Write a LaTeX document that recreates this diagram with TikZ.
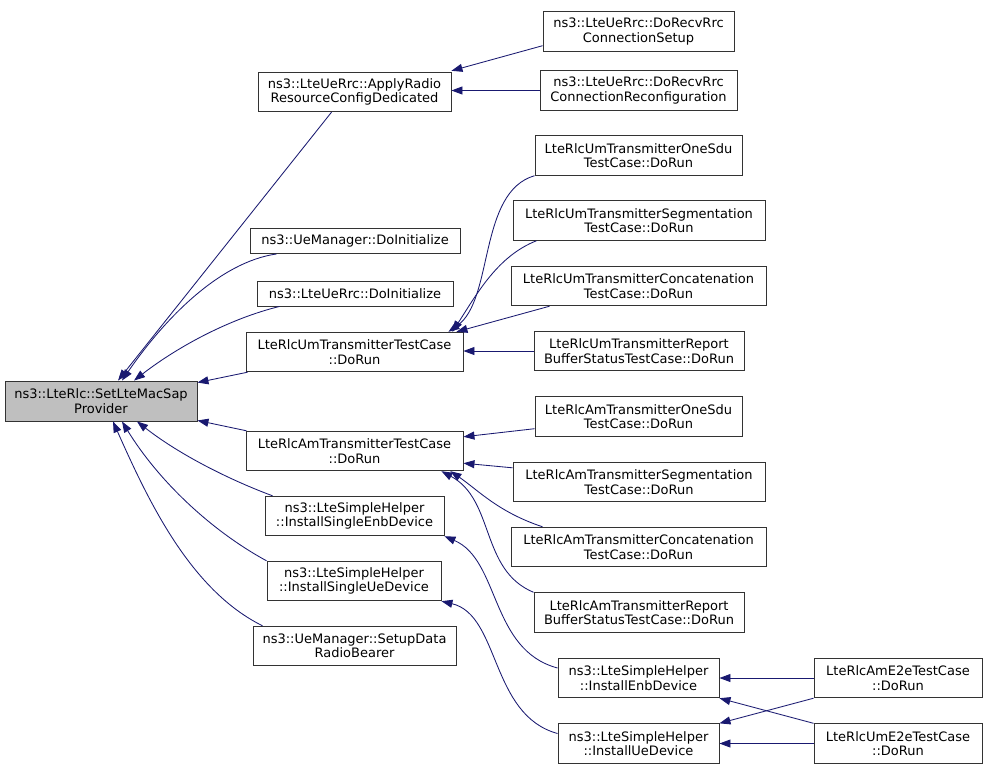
\documentclass[tikz,border=0pt]{standalone}
\usepackage{fontspec}
\setmainfont{DejaVu Sans}
\usetikzlibrary{arrows.meta,calc}
\definecolor{edgecol}{HTML}{191970}
\definecolor{rootfill}{HTML}{BFBFBF}
\begin{document}
\begin{tikzpicture}[x=1pt,y=-1pt,
  box/.style={draw=black!80, line width=0.9pt, fill=white, align=center, inner sep=0pt,
    font=\fontsize{13}{14.3}\selectfont, minimum height=39.5pt},
  onebox/.style={box, minimum height=25pt},
  edge/.style={draw=edgecol, line width=0.85pt, -{Triangle[length=11pt,width=8pt]}, edgecol}]
\useasboundingbox (0,0) rectangle (987,769);
% nodes
\node[box, fill=rootfill, minimum width=192pt, minimum height=40pt] (A) at (101,401) {ns3::LteRlc::SetLteMacSap\\Provider};
\node[box, minimum width=193pt] (B) at (354.5,92) {ns3::LteUeRrc::ApplyRadio\\ResourceConfigDedicated};
\node[box, minimum width=191pt] (C) at (638.5,31.5) {ns3::LteUeRrc::DoRecvRrc\\ConnectionSetup};
\node[box, minimum width=197pt] (D) at (638.5,90.5) {ns3::LteUeRrc::DoRecvRrc\\ConnectionReconfiguration};
\node[onebox, minimum width=210pt] (E) at (355,241) {ns3::UeManager::DoInitialize};
\node[onebox, minimum width=196pt] (F) at (355,293.5) {ns3::LteUeRrc::DoInitialize};
\node[box, minimum width=217pt] (G) at (354.5,352) {LteRlcUmTransmitterTestCase\\::DoRun};
\node[box, minimum width=217pt] (H) at (354.5,451) {LteRlcAmTransmitterTestCase\\::DoRun};
\node[box, minimum width=179pt] (I) at (354.5,516) {ns3::LteSimpleHelper\\::InstallSingleEnbDevice};
\node[box, minimum width=174pt] (J) at (354,581) {ns3::LteSimpleHelper\\::InstallSingleUeDevice};
\node[box, minimum width=203pt] (K) at (354.5,646) {ns3::UeManager::SetupData\\RadioBearer};
\node[box, minimum width=207pt] (N1) at (638.5,155.5) {LteRlcUmTransmitterOneSdu\\TestCase::DoRun};
\node[box, minimum width=252pt] (N2) at (639,220.5) {LteRlcUmTransmitterSegmentation\\TestCase::DoRun};
\node[box, minimum width=255pt] (N3) at (638.5,286) {LteRlcUmTransmitterConcatenation\\TestCase::DoRun};
\node[box, minimum width=210pt] (N4) at (639,351) {LteRlcUmTransmitterReport\\BufferStatusTestCase::DoRun};
\node[box, minimum width=207pt] (M1) at (638.5,416.5) {LteRlcAmTransmitterOneSdu\\TestCase::DoRun};
\node[box, minimum width=252pt] (M2) at (639,482) {LteRlcAmTransmitterSegmentation\\TestCase::DoRun};
\node[box, minimum width=255pt] (M3) at (638.5,547) {LteRlcAmTransmitterConcatenation\\TestCase::DoRun};
\node[box, minimum width=210pt] (M4) at (639,612.5) {LteRlcAmTransmitterReport\\BufferStatusTestCase::DoRun};
\node[box, minimum width=161pt] (P1) at (638.5,678) {ns3::LteSimpleHelper\\::InstallEnbDevice};
\node[box, minimum width=161pt] (P2) at (638.5,743.5) {ns3::LteSimpleHelper\\::InstallUeDevice};
\node[box, minimum width=168pt] (Q1) at (898,678) {LteRlcAmE2eTestCase\\::DoRun};
\node[box, minimum width=168pt] (Q2) at (898,743.5) {LteRlcUmE2eTestCase\\::DoRun};
% edges into A
\draw[edge] ($(B.south)+(-23,0)$) -- ($(A.north)+(17,0)$);
\draw[edge] ($(E.south west)+(27,0)$) .. controls (220,262) and (165,318) .. ($(A.north)+(21,0)$);
\draw[edge] ($(F.south west)+(23,0)$) .. controls (232,318) and (180,345) .. ($(A.north)+(33,0)$);
\draw[edge] ($(G.south west)+(2,0)$) -- ($(A.north east)+(0,2)$);
\draw[edge] ($(H.north west)+(1,0)$) -- ($(A.south east)+(0,-1)$);
\draw[edge] ($(I.north west)+(8,0)$) .. controls (230,480) and (180,455) .. ($(A.south)+(36,0)$);
\draw[edge] (J.north west) .. controls (210,530) and (158,480) .. ($(A.south)+(21,0)$);
\draw[edge] ($(K.north west)+(10,0)$) .. controls (190,590) and (148,500) .. ($(A.south)+(12,0)$);
% edges into B
\draw[edge] ($(C.south west)+(0,-6)$) -- ($(B.north east)+(0,-1)$);
\draw[edge] (D.west) -- (D.west -| B.east);
% edges into G
\draw[edge] (N1.south west) .. controls (478,192) and (494,300) .. ($(G.north east)+(-15,0)$);
\draw[edge] ($(N2.south west)+(24,0)$) .. controls (498,256) and (478,292) .. ($(G.north east)+(-11,0)$);
\draw[edge] ($(N3.south west)+(39,0)$) -- ($(G.north east)+(-7,0)$);
\draw[edge] (N4.west) -- (N4.west -| G.east);
% edges into H
\draw[edge] ($(M1.south west)+(0,-8)$) -- ($(H.north east)+(0,6)$);
\draw[edge] ($(M2.north west)+(0,6)$) -- ($(H.south east)+(0,-8)$);
\draw[edge] ($(M3.north west)+(32,0)$) .. controls (498,512) and (478,490) .. ($(H.south east)+(-13,0)$);
\draw[edge] (M4.north west) .. controls (480,570) and (495,500) .. ($(H.south east)+(-22,0)$);
% edges into I, J
\draw[edge] ($(P1.west)+(0,-10)$) .. controls (490,650) and (500,560) .. (I.south east);
\draw[edge] ($(P2.west)+(0,-10)$) .. controls (490,715) and (500,615) .. (J.south east);
% edges into P1, P2
\draw[edge] (Q1.west) -- (P1.east);
\draw[edge] (Q2.north west) -- (P1.south east);
\draw[edge] (Q1.south west) -- (P2.north east);
\draw[edge] (Q2.west) -- (P2.east);
\end{tikzpicture}
\end{document}
